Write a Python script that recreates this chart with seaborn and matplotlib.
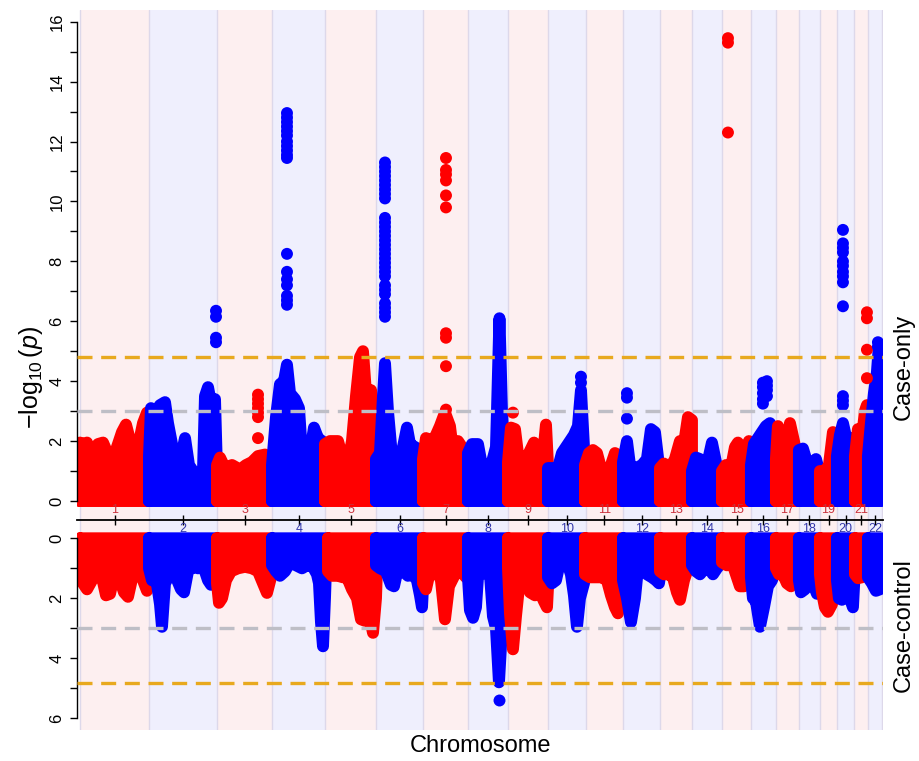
import matplotlib
matplotlib.use("Agg")
import matplotlib.pyplot as plt
import matplotlib.transforms as mtransforms
import numpy as np
import pandas as pd
import seaborn as sns

# ---------------- data ----------------
chrom_labels = [str(i) for i in range(1, 23)]
chrom_length_mb = [249.25, 243.20, 198.02, 191.15, 180.92, 171.12, 159.14, 146.36,
                   141.21, 135.53, 135.01, 133.85, 115.17, 107.35, 102.53, 90.35,
                   81.20, 78.08, 59.13, 63.03, 48.13, 51.30]

genomewide_line = 4.82
suggestive_line = 3.0

# Upper envelope of the dense SNP cloud (genome-wide position in Mb, -log10 p), per chromosome
case_only_pos = [
    [0, 10.8, 25.1, 43.1, 64.7, 82.6, 107.8, 129.3, 150.9, 165.2, 183.2, 208.3, 226.3, 240.7, 247.8],
    [247.8, 255.0, 273.0, 287.4, 305.3, 316.1, 330.5, 344.8, 359.2, 377.2, 391.5, 413.1, 441.8, 449.0, 459.8, 474.1, 484.9, 492.1],
    [492.1, 502.9, 520.8, 546.0, 574.7, 596.3, 617.8, 639.4, 664.5, 682.5, 689.7],
    [689.7, 704.0, 718.4, 732.8, 743.5, 754.3, 772.3, 786.6, 797.4, 811.8, 826.2, 840.5, 854.9, 869.3, 880.0],
    [880.0, 898.0, 926.7, 944.7, 962.6, 977.0, 991.4, 1005.8, 1016.5, 1027.3, 1045.3, 1056.0, 1063.2],
    [1063.2, 1077.6, 1088.4, 1095.6, 1106.3, 1120.7, 1142.3, 1160.2, 1174.6, 1185.4, 1203.3, 1221.3, 1232.1],
    [1232.1, 1242.8, 1264.4, 1278.8, 1293.1, 1311.1, 1329.0, 1343.4, 1357.8, 1372.1, 1390.1],
    [1393.7, 1408.1, 1429.6, 1447.6, 1465.5, 1479.9, 1494.3, 1497.9, 1506.8, 1515.8, 1526.6, 1537.4],
    [1537.4, 1548.2, 1562.5, 1576.9, 1594.8, 1612.8, 1630.8, 1648.7, 1663.1, 1673.9, 1681.1],
    [1681.1, 1699.0, 1717.0, 1731.3, 1745.7, 1760.1, 1774.4, 1788.8, 1799.6, 1810.4, 1814.0],
    [1814.0, 1828.3, 1842.7, 1857.1, 1871.4, 1889.4, 1907.4, 1921.7, 1939.7, 1950.5],
    [1950.5, 1964.8, 1975.6, 1997.2, 2018.7, 2036.6, 2051.0, 2065.4, 2083.4],
    [2083.4, 2097.7, 2119.3, 2137.2, 2155.2, 2169.6, 2184.0, 2198.3],
    [2198.3, 2212.7, 2227.0, 2245.0, 2259.4, 2270.1, 2284.5, 2306.1],
    [2306.1, 2320.4, 2338.4, 2352.8, 2363.5, 2377.9, 2392.3, 2403.0, 2410.2],
    [2410.2, 2421.0, 2435.4, 2449.7, 2464.1, 2478.5, 2492.8, 2500.0],
    [2500.0, 2507.2, 2521.6, 2536.0, 2550.3, 2564.7, 2579.1],
    [2582.6, 2597.0, 2611.4, 2625.8, 2643.7, 2658.1],
    [2658.1, 2676.0, 2690.4, 2704.8, 2715.6, 2719.1],
    [2719.1, 2729.9, 2740.7, 2755.1, 2769.4, 2783.8],
    [2783.8, 2794.6, 2808.9, 2819.7, 2826.9, 2829.5],
    [2830.5, 2841.3, 2852.0, 2862.8, 2870.0, 2877.2, 2880.8],
]
case_only_logp = [
    [1.95, 1.9, 1.95, 1.4, 1.9, 1.95, 1.4, 1.7, 2.3, 2.55, 1.9, 1.8, 2.6, 2.95, 2.4],
    [1.5, 3.1, 3.0, 3.2, 3.3, 2.6, 1.9, 0.9, 1.3, 2.1, 1.2, 0.9, 1.0, 3.5, 3.8, 3.1, 3.4, 1.0],
    [1.2, 1.45, 1.1, 1.2, 1.05, 1.2, 1.3, 1.5, 1.55, 1.5, 1.0],
    [1.2, 2.8, 3.9, 4.0, 4.55, 3.6, 3.4, 3.1, 1.6, 1.0, 1.6, 2.45, 2.1, 2.0, 1.1],
    [1.9, 2.0, 2.0, 1.4, 1.3, 2.0, 3.5, 4.8, 5.0, 3.6, 3.7, 3.0, 1.5],
    [1.4, 1.6, 3.5, 4.6, 3.0, 1.5, 1.4, 1.8, 2.45, 1.9, 1.8, 1.7, 1.0],
    [1.4, 2.1, 2.0, 2.2, 2.5, 2.95, 2.5, 1.4, 2.0, 1.8, 1.0],
    [1.6, 1.9, 1.9, 1.0, 1.0, 1.3, 1.8, 3.0, 6.1, 3.0, 1.2, 0.9],
    [1.3, 2.45, 2.4, 1.3, 1.0, 1.6, 1.95, 1.4, 1.5, 2.55, 1.2],
    [1.1, 1.1, 1.1, 1.6, 1.8, 2.0, 2.2, 2.5, 3.7, 1.8, 0.9],
    [1.2, 1.6, 1.7, 1.6, 1.1, 1.0, 1.2, 1.6, 1.5, 0.9],
    [1.3, 2.0, 1.2, 1.1, 1.2, 1.4, 2.4, 2.3, 0.9],
    [1.1, 1.25, 1.1, 1.4, 2.0, 1.9, 2.8, 2.7],
    [1.0, 1.45, 1.4, 1.1, 1.5, 1.95, 1.3, 0.8],
    [1.0, 1.2, 1.1, 1.8, 1.95, 1.4, 1.7, 2.0, 1.0],
    [1.2, 1.9, 2.1, 2.3, 2.5, 2.6, 2.0, 1.0],
    [1.4, 2.5, 1.9, 1.7, 2.6, 2.0, 1.3],
    [1.7, 1.75, 1.3, 1.1, 1.4, 0.9],
    [1.0, 1.0, 1.2, 2.3, 1.5, 0.9],
    [1.5, 2.2, 2.6, 2.0, 2.1, 0.9],
    [1.5, 2.4, 2.1, 3.0, 3.2, 1.2],
    [1.5, 2.6, 3.6, 4.3, 5.2, 3.9, 2.0],
]

case_control_pos = [
    [0, 10.8, 25.1, 43.1, 61.1, 79.0, 93.4, 107.8, 125.7, 136.5, 158.0, 172.4, 190.4, 208.3, 226.3, 240.7, 247.8],
    [247.8, 258.6, 273.0, 287.4, 294.5, 305.3, 323.3, 344.8, 362.8, 373.6, 387.9, 405.9, 423.9, 441.8, 459.8, 470.6, 484.9, 492.1],
    [492.1, 499.3, 510.1, 524.4, 542.4, 567.5, 592.7, 617.8, 639.4, 657.3, 671.7, 686.1, 689.7],
    [689.7, 704.0, 718.4, 736.4, 754.3, 775.9, 797.4, 815.4, 833.3, 851.3, 858.5, 865.7, 872.9, 880.0, 883.6],
    [890.8, 905.2, 926.7, 944.7, 959.1, 977.0, 995.0, 1009.4, 1023.7, 1038.1, 1052.5, 1063.2, 1066.8],
    [1063.2, 1077.6, 1099.2, 1117.1, 1127.9, 1142.3, 1160.2, 1178.2, 1196.1, 1210.5, 1221.3, 1228.5, 1235.6],
    [1232.1, 1242.8, 1257.2, 1278.8, 1296.7, 1311.1, 1325.4, 1347.0, 1368.5, 1386.5, 1393.7],
    [1393.7, 1400.9, 1411.7, 1422.4, 1429.6, 1451.2, 1472.7, 1483.5, 1494.3, 1505.0, 1515.8, 1526.6, 1533.8],
    [1537.4, 1544.6, 1555.3, 1566.1, 1580.5, 1602.0, 1616.4, 1634.4, 1652.3, 1666.7, 1677.5, 1684.6],
    [1681.1, 1695.4, 1709.8, 1724.2, 1745.7, 1763.6, 1774.4, 1785.2, 1796.0, 1810.4, 1817.6],
    [1814.0, 1831.9, 1853.5, 1875.0, 1893.0, 1907.4, 1921.7, 1932.5, 1943.3, 1950.5],
    [1950.5, 1964.8, 1979.2, 1993.6, 2004.3, 2022.3, 2036.6, 2054.6, 2069.0, 2079.8, 2087.0],
    [2083.4, 2097.7, 2115.7, 2130.1, 2144.4, 2155.2, 2169.6, 2184.0, 2198.3],
    [2198.3, 2212.7, 2227.0, 2245.0, 2259.4, 2273.7, 2288.1, 2306.1],
    [2306.1, 2324.0, 2342.0, 2356.3, 2370.7, 2385.1, 2399.5, 2410.2],
    [2410.2, 2417.4, 2428.2, 2442.6, 2457.0, 2471.3, 2485.7, 2500.0],
    [2500.0, 2510.8, 2525.2, 2539.5, 2553.9, 2568.3, 2579.1],
    [2582.6, 2589.8, 2604.2, 2618.6, 2633.0, 2647.3, 2658.1],
    [2658.1, 2665.3, 2676.0, 2686.8, 2701.2, 2712.0, 2719.1],
    [2719.1, 2726.3, 2737.1, 2747.9, 2758.7, 2769.4, 2776.6, 2783.8],
    [2783.8, 2794.6, 2808.9, 2823.3, 2829.0],
    [2830.5, 2844.9, 2859.2, 2873.6, 2880.8],
]
case_control_logp = [
    [1.0, 1.5, 1.7, 1.4, 1.2, 1.3, 1.9, 1.85, 1.1, 1.2, 1.8, 1.95, 1.2, 1.0, 1.4, 1.75, 1.0],
    [1.0, 1.4, 1.3, 2.2, 2.95, 1.5, 1.2, 1.3, 1.7, 1.8, 1.1, 0.95, 1.0, 0.9, 1.4, 1.55, 1.5, 1.0],
    [1.5, 2.15, 2.0, 1.4, 1.1, 1.0, 0.95, 1.0, 1.1, 1.5, 1.82, 1.3, 0.9],
    [0.9, 1.1, 1.25, 1.1, 0.8, 0.9, 1.0, 0.9, 0.9, 1.2, 1.5, 2.8, 3.6, 2.0, 1.0],
    [1.1, 1.25, 1.25, 1.3, 1.3, 1.7, 2.0, 2.7, 2.75, 2.5, 3.15, 2.0, 1.0],
    [0.9, 1.0, 1.1, 1.55, 1.6, 1.0, 1.1, 1.25, 1.2, 1.4, 1.9, 2.3, 1.0],
    [1.5, 1.7, 1.1, 1.0, 1.4, 2.7, 1.6, 1.2, 1.1, 1.3, 1.0],
    [1.3, 2.4, 2.65, 2.3, 1.3, 1.1, 1.2, 2.6, 3.0, 4.8, 3.0, 1.3, 1.0],
    [1.0, 2.5, 3.7, 2.6, 1.3, 1.2, 1.8, 1.9, 1.8, 2.1, 2.3, 1.0],
    [1.3, 1.5, 1.4, 0.8, 0.7, 1.2, 1.9, 2.95, 2.0, 1.5, 1.0],
    [1.2, 1.3, 1.3, 1.3, 1.4, 1.9, 2.3, 2.5, 1.8, 1.0],
    [1.4, 2.0, 2.8, 2.0, 1.0, 0.9, 1.2, 1.3, 1.4, 1.5, 1.0],
    [1.1, 1.2, 1.2, 1.3, 1.8, 2.05, 1.4, 1.0, 0.9],
    [0.9, 1.1, 1.2, 1.0, 1.0, 1.2, 1.0, 0.8],
    [0.8, 0.9, 0.8, 1.2, 1.6, 1.6, 1.0, 0.8],
    [1.3, 2.0, 2.1, 2.95, 2.3, 1.6, 1.4, 0.9],
    [1.0, 1.2, 1.2, 1.5, 1.6, 1.2, 0.8],
    [1.4, 1.8, 1.7, 1.2, 1.5, 1.85, 1.0],
    [1.2, 1.8, 2.3, 2.45, 2.2, 1.5, 0.9],
    [1.4, 2.0, 2.05, 1.6, 1.6, 2.1, 2.3, 1.0],
    [1.2, 1.33, 1.3, 1.1, 0.8],
    [1.3, 1.5, 1.75, 1.7, 1.0],
]

# Isolated strong signals: chromosome, position (Mb), -log10 p values at that locus
case_only_hit_chr = [2, 3, 4, 6, 7, 9, 10, 12, 15, 16, 16, 20, 21, 22]
case_only_hit_pos = [488.5, 639.4, 743.5, 1095.6, 1314.7, 1555.3, 1799.6, 1964.8,
                     2327.6, 2453.3, 2467.7, 2740.7, 2826.9, 2866.4]
case_only_hit_logp = [
    [6.35, 6.15, 5.45, 5.3],
    [3.55, 3.4, 3.25, 3.1, 2.95, 2.8, 2.1],
    [12.95, 12.8, 12.65, 12.5, 12.35, 12.2, 12.0, 11.85, 11.7, 11.55, 11.45,
     8.25, 7.65, 7.4, 7.2, 6.85, 6.7, 6.55],
    [11.3, 11.15, 11.0, 10.85, 10.7, 10.55, 10.4, 10.25, 10.1, 9.45, 9.3, 9.15, 9.0,
     8.85, 8.7, 8.55, 8.4, 8.25, 8.1, 7.95, 7.8, 7.65, 7.5, 7.2, 7.05, 6.9, 6.6,
     6.45, 6.3, 6.15],
    [11.45, 11.05, 10.9, 10.7, 10.2, 9.8, 5.6, 5.45, 4.5, 3.05],
    [2.95],
    [4.15, 3.95],
    [3.6, 3.45, 2.75],
    [15.45, 15.3, 12.3],
    [3.95, 3.8, 3.6, 3.4, 3.25],
    [4.0, 3.85, 3.7, 3.5],
    [9.05, 8.6, 8.45, 8.3, 8.0, 7.85, 7.65, 7.5, 7.3, 6.5, 3.5, 3.35, 3.2],
    [6.3, 6.1, 5.05, 4.1],
    [5.3, 5.15, 4.5, 4.35],
]
case_control_hit_chr = [8]
case_control_hit_pos = [1505.0]
case_control_hit_logp = [[5.4]]

# ---------------- style ----------------
sns.set_style("white")
plt.rcParams["font.family"] = ["Liberation Sans", "DejaVu Sans"]
plt.rcParams["mathtext.fontset"] = "custom"
plt.rcParams["mathtext.rm"] = "Liberation Sans"
plt.rcParams["mathtext.it"] = "Liberation Sans:italic"
plt.rcParams["mathtext.bf"] = "Liberation Sans:bold"
for k in ["text.color", "axes.labelcolor", "xtick.color", "ytick.color"]:
    plt.rcParams[k] = "black"

RED, BLUE = "#FF0000", "#0000FF"
BG = ["#FDEFF0", "#EFEFFD"]
LABEL_COL = ["#C8323C", "#3236AA"]
W, H = 919, 761
LW = 8.6          # stroke width (pt) ~ marker diameter
MS = 74           # marker area

starts = np.concatenate([[0], np.cumsum(chrom_length_mb)[:-1]])
ends = np.cumsum(chrom_length_mb)
centers = (starts + ends) / 2
xmin, xmax = -10.8, 2884.6

fig = plt.figure(figsize=(W / 100, H / 100), dpi=100)
ax_bot = fig.add_axes([77 / W, 1 - 730 / H, (883 - 77) / W, 210 / H])
ax_top = fig.add_axes([77 / W, 1 - 520 / H, (883 - 77) / W, 510 / H])
ax_bot.set_zorder(1)
ax_top.set_zorder(2)


def hits_frame(chrs, poss, vals):
    rows = []
    for c, p, vs in zip(chrs, poss, vals):
        for v in vs:
            rows.append({"chr": c, "pos": p, "logp": v,
                         "parity": "odd" if c % 2 == 1 else "even"})
    return pd.DataFrame(rows)


def draw_panel(ax, pos_lists, logp_lists, hits):
    for i, (s, e) in enumerate(zip(starts, ends)):
        ax.axvspan(s, e, color=BG[i % 2], lw=0, zorder=0)
        ax.axvline(s, color="#DDD8EA", lw=1.0, zorder=0.5)
    ax.axvline(ends[-1], color="#DDD8EA", lw=1.0, zorder=0.5)
    for i, (p, v) in enumerate(zip(pos_lists, logp_lists)):
        col = RED if i % 2 == 0 else BLUE
        xs = [p[0]] + list(p) + [p[-1]]
        ys = [0] + list(v) + [0]
        ax.fill(xs, ys, color=col, lw=0, zorder=2)
        ax.plot(xs + [xs[0]], ys + [ys[0]], color=col, lw=LW,
                solid_joinstyle="round", solid_capstyle="round", zorder=2)
    sns.scatterplot(data=hits, x="pos", y="logp", hue="parity",
                    palette={"odd": RED, "even": BLUE}, s=MS, linewidth=0,
                    legend=False, ax=ax, zorder=3)
    ax.axhline(suggestive_line, color="#BEBEC6", lw=2.4, dashes=(4.5, 2.6), zorder=4)
    ax.axhline(genomewide_line, color="#E8A91E", lw=2.4, dashes=(4.5, 2.6), zorder=4)
    ax.set_xlim(xmin, xmax)
    ax.set_xlabel("")
    ax.set_ylabel("")
    for sp in ["top", "right"]:
        ax.spines[sp].set_visible(False)
    ax.spines["left"].set_color("black")
    ax.spines["left"].set_linewidth(1.0)
    ax.tick_params(axis="y", which="both", direction="out", length=5, width=1.0,
                   color="black", labelcolor="black", labelsize=12, pad=4, left=True)


draw_panel(ax_top, case_only_pos, case_only_logp,
           hits_frame(case_only_hit_chr, case_only_hit_pos, case_only_hit_logp))
draw_panel(ax_bot, case_control_pos, case_control_logp,
           hits_frame(case_control_hit_chr, case_control_hit_pos, case_control_hit_logp))

# top panel axes
ax_top.set_ylim(-0.634, 16.39)
ax_top.set_yticks(range(0, 17, 2))
ax_top.set_yticks(range(1, 16, 2), minor=True)
ax_top.set_yticklabels([str(v) for v in range(0, 17, 2)])
ax_top.spines["left"].set_bounds(0, 16)
ax_top.spines["bottom"].set_color("black")
ax_top.spines["bottom"].set_linewidth(1.3)
ax_top.spines["bottom"].set_zorder(6)
ax_top.set_xticks(centers)
ax_top.tick_params(axis="x", direction="inout", length=6.5, width=1.0,
                   labelbottom=False, bottom=True)
for i, t in enumerate(ax_top.xaxis.get_major_ticks()):
    t.tick1line.set_color(LABEL_COL[i % 2])

# bottom panel axes
ax_bot.set_ylim(6.39, -0.61)
ax_bot.set_yticks(range(0, 7, 2))
ax_bot.set_yticks(range(1, 6, 2), minor=True)
ax_bot.set_yticklabels([str(v) for v in range(0, 7, 2)])
ax_bot.spines["left"].set_bounds(0, 6)
ax_bot.spines["bottom"].set_visible(False)
ax_bot.set_xticks([])

for ax in (ax_top, ax_bot):
    for lab in ax.get_yticklabels():
        lab.set_rotation(90)
        lab.set_va("center")

# chromosome labels (odd above, even below the axis line)
trans = mtransforms.blended_transform_factory(ax_top.transData, fig.transFigure)
for i, (c, lab) in enumerate(zip(centers, chrom_labels)):
    y = 1 - (510 if i % 2 == 0 else 529) / H
    ax_top.text(c, y, lab, transform=trans, ha="center", va="center",
                fontsize=9, color=LABEL_COL[i % 2], zorder=7, clip_on=False)

# figure labels
fig.text(31 / W, 1 - 378 / H, r"$-\log_{10}(p)$", rotation=90, fontsize=18,
         ha="center", va="center")
fig.text(904 / W, 1 - 367 / H, "Case-only", rotation=90, fontsize=17,
         ha="center", va="center")
fig.text(904 / W, 1 - 625 / H, "Case-control", rotation=90, fontsize=17,
         ha="center", va="center")
fig.text(480 / W, 1 - 746 / H, "Chromosome", fontsize=17, ha="center", va="center")

fig.savefig("out.png", dpi=100)
